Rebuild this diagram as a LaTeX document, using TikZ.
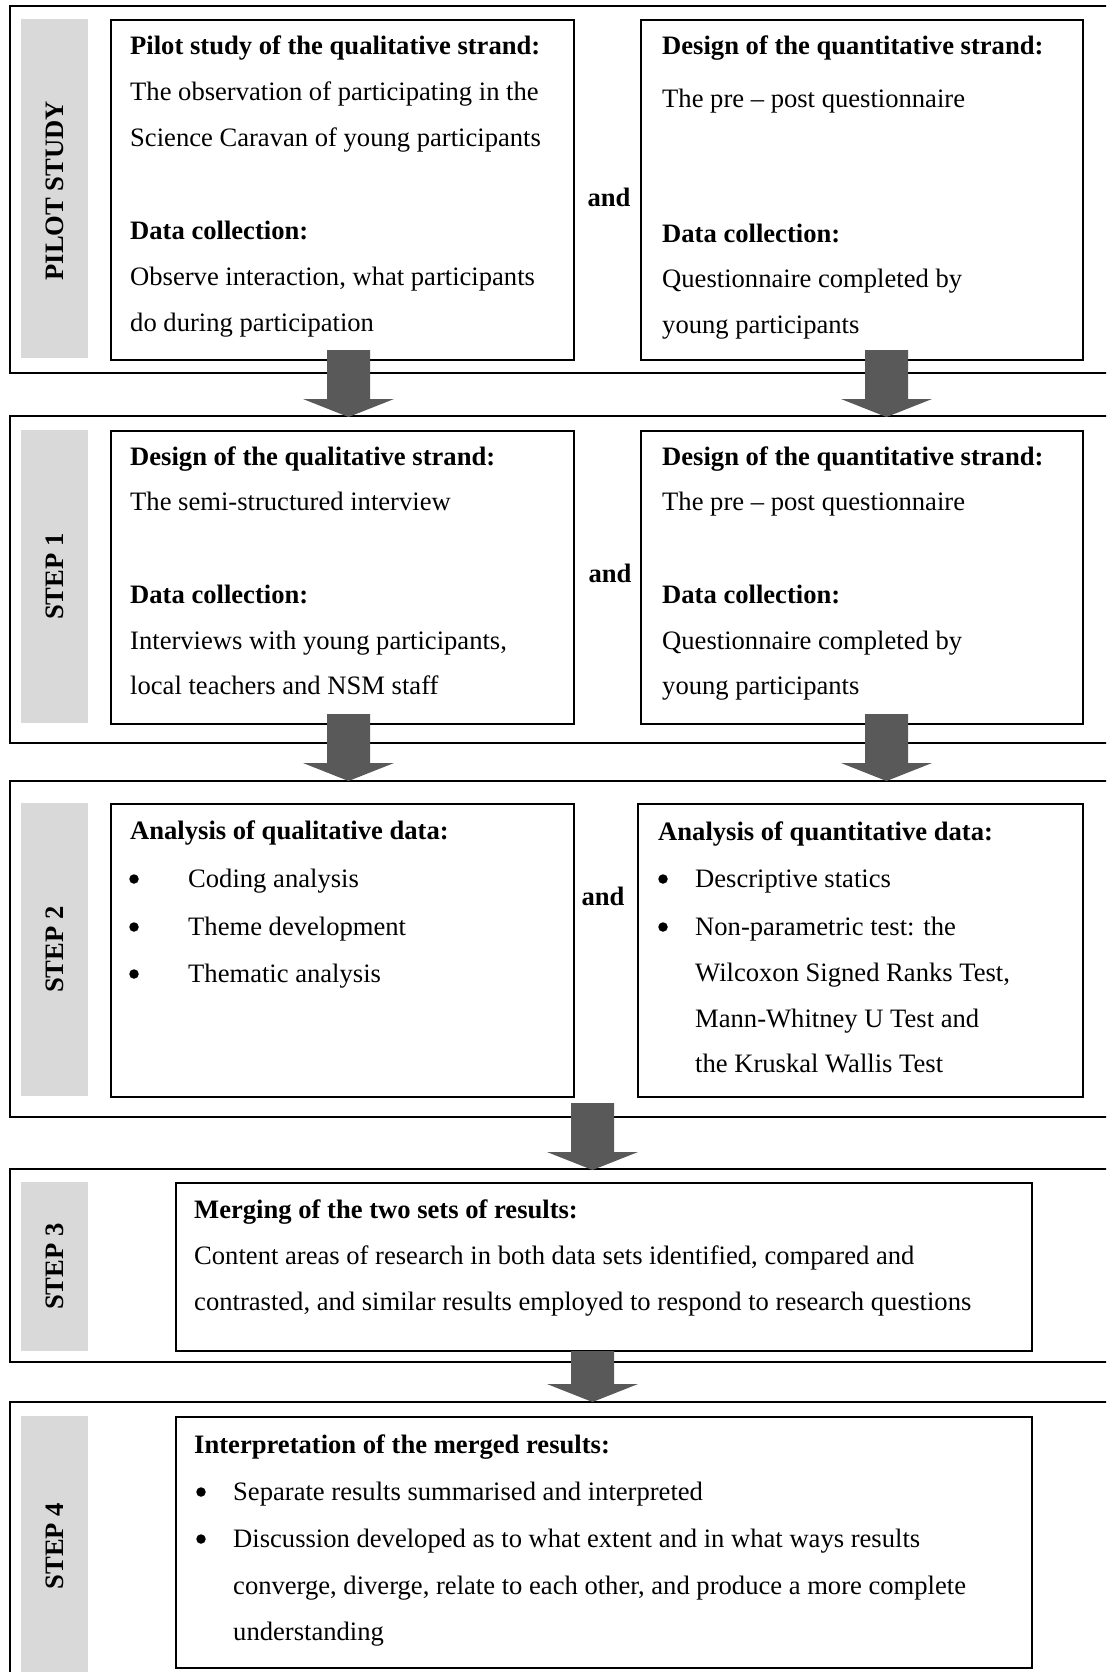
\documentclass[tikz,border=0pt]{standalone}
\usepackage{fontspec}
\setmainfont{Liberation Serif}
\definecolor{stripgray}{HTML}{D9D9D9}
\definecolor{arrowgray}{HTML}{595959}
\newcommand\blockarrow[3]{% x centre, y top, y tip
  \fill[arrowgray] (#1-21.5,#2) -- (#1+21.5,#2) -- (#1+21.5,#3-18) -- (#1+45.5,#3-18)
     -- (#1,#3) -- (#1-45.5,#3-18) -- (#1-21.5,#3-18) -- cycle;}
\tikzset{
  frame/.style={draw=black, line width=1.6pt},
  box/.style={draw=black, line width=1.8pt, fill=white, anchor=north west, inner sep=0pt},
  strip/.style={fill=stripgray, anchor=north west, inner sep=0pt, draw=none},
  txt/.style={anchor=base west, inner sep=0pt, font=\fontsize{26.6}{32}\selectfont},
  hd/.style={anchor=base west, inner sep=0pt, font=\fontsize{26.6}{32}\selectfont\bfseries},
  steplabel/.style={rotate=90, inner sep=0pt, font=\fontsize{26.6}{32}\selectfont\bfseries},
  andlbl/.style={inner sep=0pt, font=\fontsize{26.6}{32}\selectfont\bfseries},
  bul/.style={circle, fill=black, inner sep=0pt, minimum size=9.5pt},
}
\begin{document}
\begin{tikzpicture}[x=1pt,y=-1pt]
\clip (0,0) rectangle (1106,1672);
\fill[white] (0,0) rectangle (1106,1672);

% ---------- outer frames ----------
\draw[frame] (1130,6) -- (10,6) -- (10,373) -- (1130,373);
\draw[frame] (1130,416) -- (10,416) -- (10,743) -- (1130,743);
\draw[frame] (1130,781) -- (10,781) -- (10,1117) -- (1130,1117);
\draw[frame] (1130,1169) -- (10,1169) -- (10,1362) -- (1130,1362);
\draw[frame] (1130,1402) -- (10,1402) -- (10,1700) -- (1130,1700);

% ---------- grey strips ----------
\node[strip, minimum width=67pt, minimum height=339pt] (s0) at (21,19) {};
\node[strip, minimum width=67pt, minimum height=293pt] (s1) at (21,430) {};
\node[strip, minimum width=67pt, minimum height=293pt] (s2) at (21,803) {};
\node[strip, minimum width=67pt, minimum height=169pt] (s3) at (21,1182) {};
\node[strip, minimum width=67pt, minimum height=260pt] (s4) at (21,1416) {};

\node[steplabel] (l0) at ([yshift=-2pt]s0.center) {PILOT STUDY};
\node[steplabel] (l1) at (s1.center) {STEP 1};
\node[steplabel] (l2) at (s2.center) {STEP 2};
\node[steplabel] (l3) at (s3.center) {STEP 3};
\node[steplabel] (l4) at (s4.center) {STEP 4};

% ---------- boxes ----------
\node[box, minimum width=463pt, minimum height=340pt] (pL) at (110,19) {};
\node[box, minimum width=442pt, minimum height=340pt] (pR) at (640,19) {};
\node[box, minimum width=463pt, minimum height=293pt] (aL) at (110,430) {};
\node[box, minimum width=442pt, minimum height=293pt] (aR) at (640,430) {};
\node[box, minimum width=463pt, minimum height=293pt] (bL) at (110,803) {};
\node[box, minimum width=445pt, minimum height=293pt] (bR) at (637,803) {};
\node[box, minimum width=856pt, minimum height=168pt] (c) at (175,1182) {};
\node[box, minimum width=856pt, minimum height=251pt] (d) at (175,1416) {};

% ---------- "and" labels ----------
\node[andlbl] (and0) at (609,197) {and};
\node[andlbl] (and1) at (610,573) {and};
\node[andlbl] (and2) at (603,896) {and};

% ---------- PILOT STUDY texts ----------
\node[hd]  (p1) at (130,55)  {Pilot study of the qualitative strand:};
\node[txt] (p2) at (130,101) {The observation of participating in the};
\node[txt] (p3) at (130,147) {Science Caravan of young participants};
\node[hd]  (p4) at (130,239) {Data collection:};
\node[txt] (p5) at (130,285) {Observe interaction, what participants};
\node[txt] (p6) at (130,331) {do during participation};

\node[hd]  (q1) at (662,55)  {Design of the quantitative strand:};
\node[txt] (q2) at (662,108) {The pre – post questionnaire};
\node[hd]  (q3) at (662,242) {Data collection:};
\node[txt] (q4) at (662,287) {Questionnaire completed by};
\node[txt] (q5) at (662,333) {young participants};

% ---------- STEP 1 texts ----------
\node[hd]  (r1) at (130,465) {Design of the qualitative strand:};
\node[txt] (r2) at (130,510) {The semi-structured interview};
\node[hd]  (r3) at (130,603) {Data collection:};
\node[txt] (r4) at (130,649) {Interviews with young participants,};
\node[txt] (r5) at (130,694) {local teachers and NSM staff};

\node[hd]  (t1) at (662,465) {Design of the quantitative strand:};
\node[txt] (t2) at (662,510) {The pre – post questionnaire};
\node[hd]  (t3) at (662,603) {Data collection:};
\node[txt] (t4) at (662,649) {Questionnaire completed by};
\node[txt] (t5) at (662,694) {young participants};

% ---------- STEP 2 texts ----------
\node[hd]  (u1) at (130,839) {Analysis of qualitative data:};
\node[bul] (u2b) at (134,879) {};
\node[txt] (u2) at (188,887) {Coding analysis};
\node[bul] (u3b) at (134,927) {};
\node[txt] (u3) at (188,935) {Theme development};
\node[bul] (u4b) at (134,974) {};
\node[txt] (u4) at (188,982) {Thematic analysis};

\node[hd]  (v1) at (658,840) {Analysis of quantitative data:};
\node[bul] (v2b) at (663,879) {};
\node[txt] (v2) at (695,887) {Descriptive statics};
\node[bul] (v3b) at (663,927) {};
\node[txt] (v3) at (695,935) {Non-parametric test: the};
\node[txt] (v4) at (695,981) {Wilcoxon Signed Ranks Test,};
\node[txt] (v5) at (695,1027) {Mann-Whitney U Test and};
\node[txt] (v6) at (695,1072) {the Kruskal Wallis Test};

% ---------- STEP 3 texts ----------
\node[hd]  (w1) at (194,1218) {Merging of the two sets of results:};
\node[txt] (w2) at (194,1264) {Content areas of research in both data sets identified, compared and};
\node[txt] (w3) at (194,1310) {contrasted, and similar results employed to respond to research questions};

% ---------- STEP 4 texts ----------
\node[hd]  (x1) at (194,1453) {Interpretation of the merged results:};
\node[bul] (x2b) at (201,1492) {};
\node[txt] (x2) at (233,1500) {Separate results summarised and interpreted};
\node[bul] (x3b) at (201,1539) {};
\node[txt] (x3) at (233,1547) {Discussion developed as to what extent and in what ways results};
\node[txt] (x4) at (233,1594) {converge, diverge, relate to each other, and produce a more complete};
\node[txt] (x5) at (233,1640) {understanding};

% ---------- block arrows ----------
\blockarrow{348.5}{350}{417}
\blockarrow{886.5}{350}{417}
\blockarrow{348.5}{714}{781}
\blockarrow{886.5}{714}{781}
\blockarrow{592.5}{1103}{1170}
\blockarrow{592.5}{1351}{1402}
\end{tikzpicture}
\end{document}
